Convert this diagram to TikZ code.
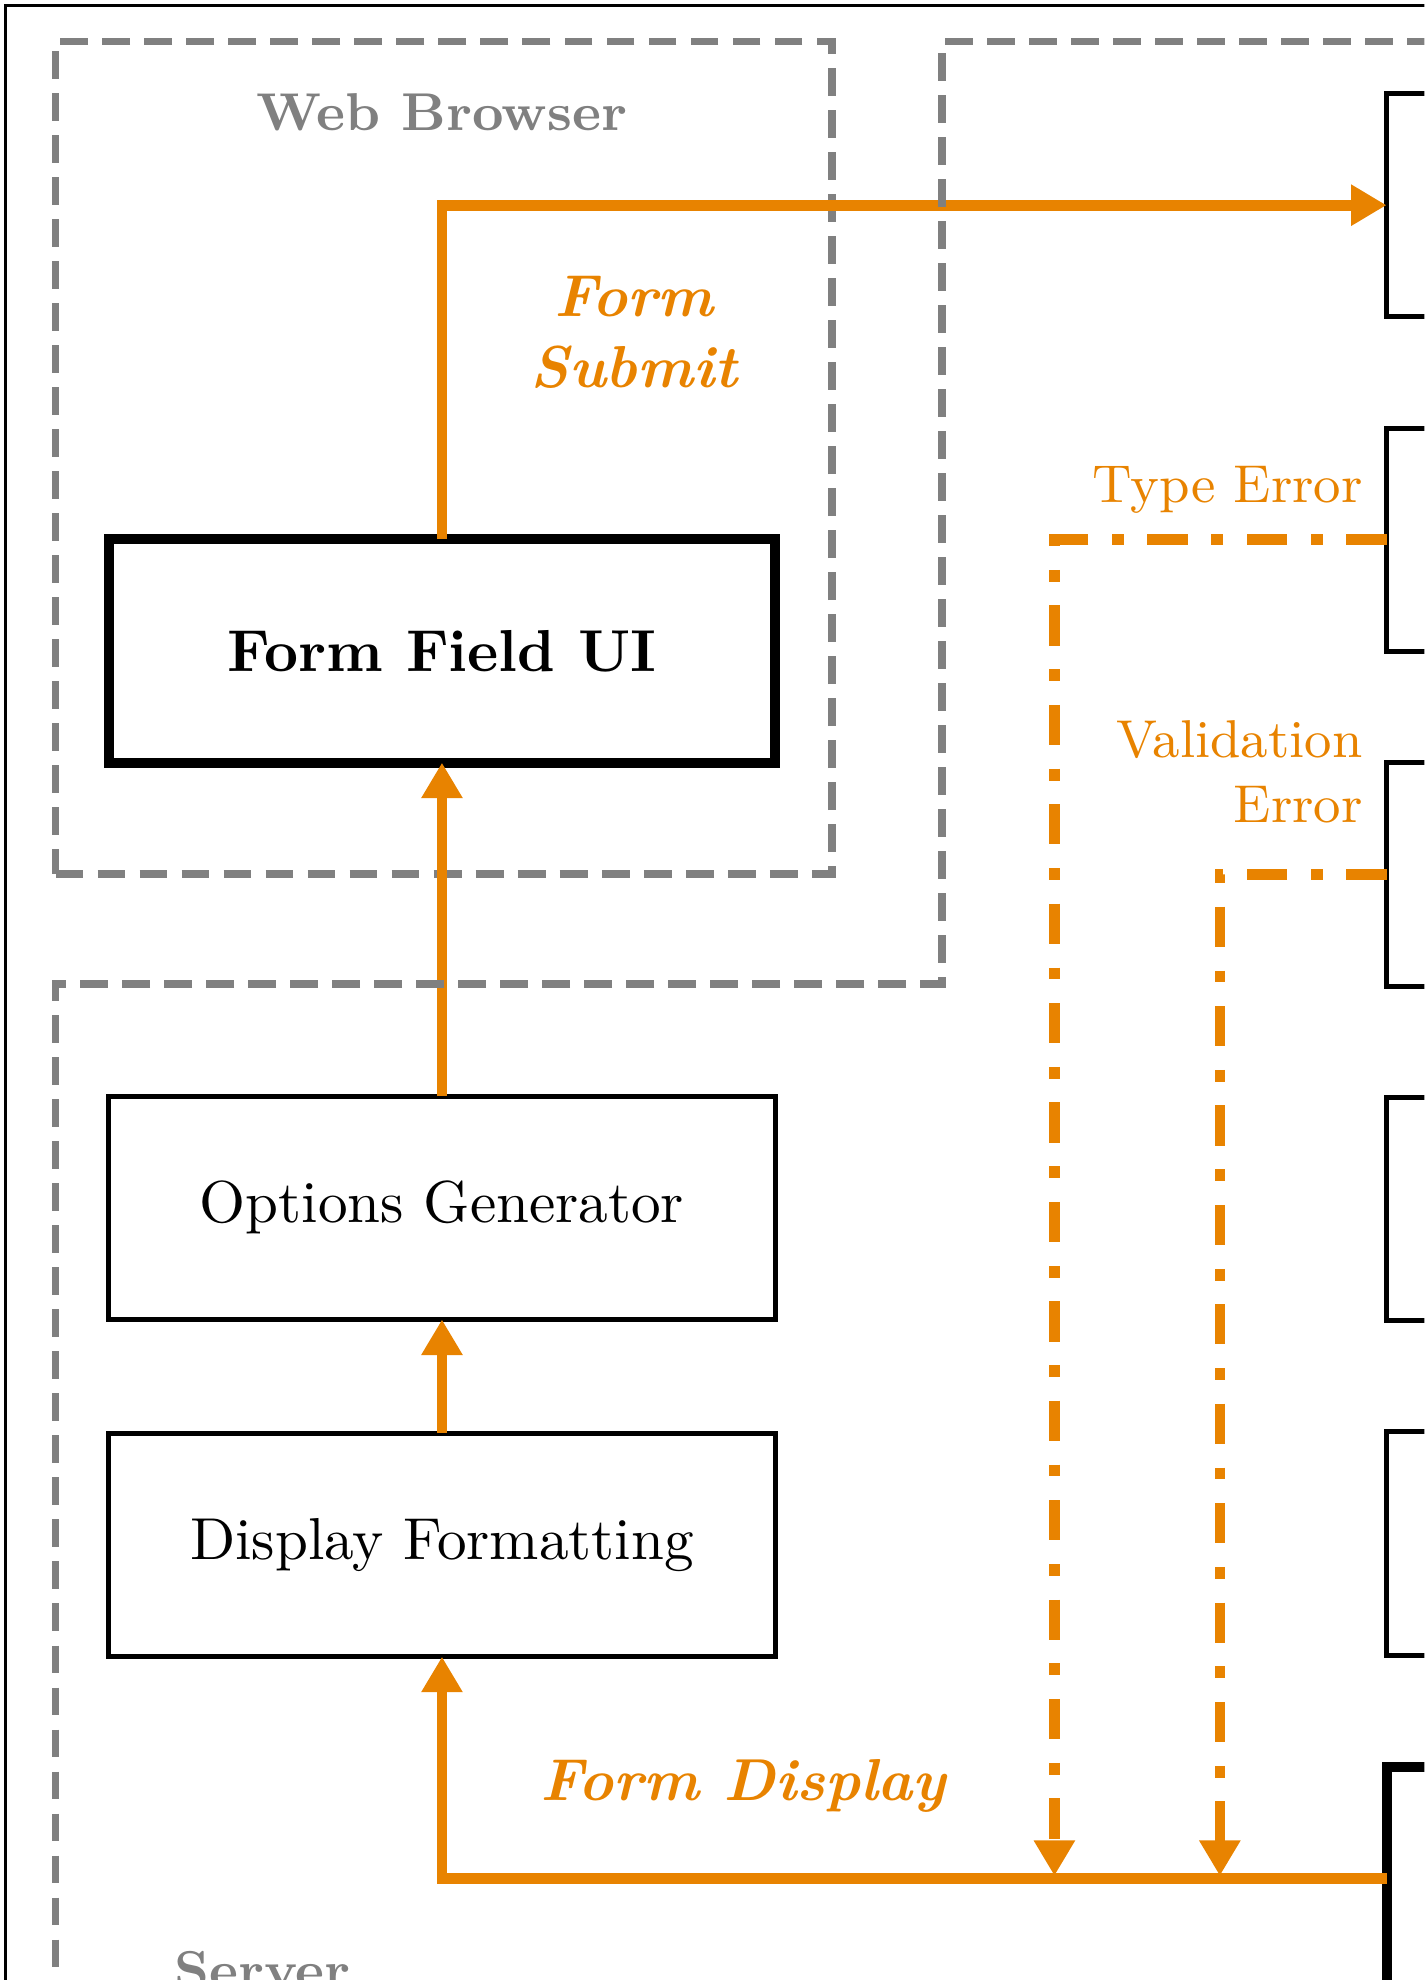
\documentclass[tikz,border=0pt]{standalone}
\usepackage{xcolor}
\usepackage{tikz}
\usetikzlibrary{arrows.meta, positioning}
\definecolor{myorange}{RGB}{232,131,0}
\definecolor{mygray}{RGB}{128,128,128}
\tikzset{
  block/.style={rectangle, draw=black, fill=white,
    minimum width=3.96cm, minimum height=1.3275cm,
    inner sep=0pt, outer sep=0pt, line width=0.85pt},
  uiblock/.style={block, line width=1.7pt, font=\bfseries},
  region/.style={draw=mygray, line width=1.3pt, dash pattern=on 4.7pt off 2.4pt},
  regionlbl/.style={text=mygray, font=\small\bfseries, inner sep=0pt},
  arrow/.style={-{Triangle[length=6pt,width=6.6pt]}, line width=1.8pt, color=myorange},
  errarrow/.style={arrow, dash pattern=on 6.8pt off 4pt on 2pt off 4pt},
  flowlbl/.style={text=myorange, font=\bfseries\itshape, inner sep=0pt, align=center},
  errlbl/.style={text=myorange, font=\small, inner sep=0pt, align=right}
}

\begin{document}
\begin{tikzpicture}
  \useasboundingbox (0,0) rectangle (8.46,-11.76);
  \clip (0,0) rectangle (8.46,-11.76);
  \draw[line width=0.5pt] (0.03,-0.03) rectangle (20,-20);

  % browser side
  \node[region, rectangle, minimum width=4.6125cm, minimum height=4.9425cm,
    inner sep=0pt, outer sep=0pt, anchor=north west] (browser) at (0.33,-0.2475) {};
  \node[regionlbl, anchor=base] (browserlbl) at (2.625,-0.7725) {Web Browser};

  \node[uiblock] (ffui) at (2.625,-3.866) {Form Field UI};
  \node[block, below=1.98cm of ffui] (opts) {Options Generator};
  \node[block, below=0.675cm of opts] (disp) {Display Formatting};

  % server column
  \node[block, anchor=north west] (srv1) at (8.235,-0.555) {};
  \node[block, below=0.66cm of srv1] (srv2) {};
  \node[block, below=0.66cm of srv2] (srv3) {};
  \node[block, below=0.66cm of srv3] (srv4) {};
  \node[block, below=0.66cm of srv4] (srv5) {};
  \node[uiblock, below=0.66cm of srv5] (srv6) {};

  \coordinate (typedrop) at (6.2625,-11.1413);
  \coordinate (validdrop) at (7.245,-11.1413);

  \draw[arrow] (opts) -- (ffui);
  \draw[arrow] (disp) -- (opts);
  \draw[arrow] (ffui.north) |- (srv1.west);
  \draw[arrow] (srv6.west) -| (disp.south);
  \draw[errarrow] (srv2.west) -| (typedrop);
  \draw[errarrow] (srv3.west) -| (validdrop);

  \draw[region] (20,-0.2475) -- (5.595,-0.2475) -- (5.595,-5.8425)
    -- (0.33,-5.8425) -- (0.33,-20);
  \node[regionlbl, anchor=base west] (serverlbl) at (1.0275,-11.81) {Server};

  \node[flowlbl] (submitlbl) at (3.765,-1.973) {Form\\Submit};
  \node[errlbl, anchor=base east] (typelbl) at (8.1,-2.985) {Type Error};
  \node[errlbl, anchor=east] (validlbl) at (8.1,-4.585) {Validation\\Error};
  \node[flowlbl, anchor=base] (displbl) at (4.415,-10.695) {Form Display};
\end{tikzpicture}
\end{document}
